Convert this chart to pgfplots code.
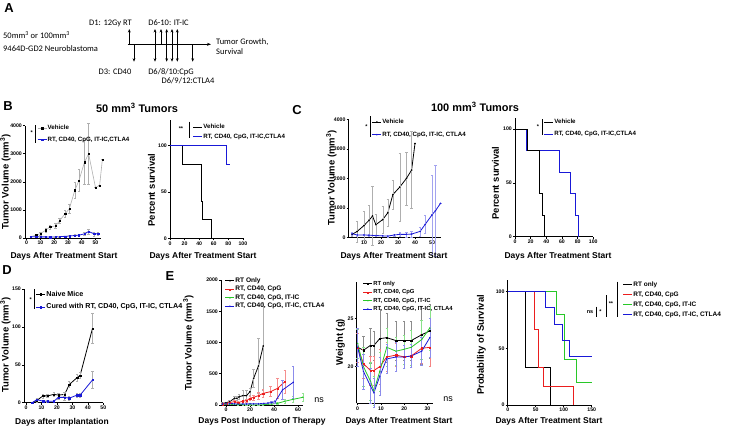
\documentclass[border=0pt]{standalone}
\usepackage{pgfplots}
\pgfplotsset{compat=1.18}
\usetikzlibrary{arrows.meta}
\usepackage{fontspec}
\setmainfont{Liberation Sans}
\newfontfamily\calfont{Carlito}

\definecolor{pblue}{RGB}{25,25,215}
\definecolor{pred}{RGB}{235,30,30}
\definecolor{pgreen}{RGB}{40,200,40}
\definecolor{lgray}{RGB}{175,175,175}

\newcommand\tl{\fontsize{5.2}{5.2}\selectfont\bfseries}
\newcommand\xl{\fontsize{8.5}{9}\selectfont\bfseries}
\newcommand\yl{\fontsize{9.5}{10}\selectfont\bfseries}
\newcommand\pl{\fontsize{13}{13}\selectfont\bfseries}
\newcommand\al{\fontsize{8.5}{9}\selectfont\calfont}

\pgfplotsset{
 prism/.style={scale only axis, anchor=south west, axis lines*=left, tick align=outside,
  major tick length=2bp, axis line style={line width=0.7bp},
  every tick/.style={black,line width=0.6bp},
  tick label style={font=\tl}, /pgf/number format/assume math mode=true,
  /pgf/number format/1000 sep={}, clip=false,
  xticklabel style={inner sep=1bp}, yticklabel style={inner sep=1bp},
  legend cell align=left,
  legend style={draw=none, fill=none, inner sep=0pt, outer sep=0pt, anchor=north west,
    font=\fontsize{6.2}{6.2}\selectfont\bfseries, nodes={inner sep=0.6bp}},
  legend image code/.code={\draw[mark repeat=2,mark phase=2,##1] plot coordinates {(0bp,0bp) (4.5bp,0bp) (9bp,0bp)};},
 },
 eb/.style={error bars/y dir=both, error bars/y explicit,
   error bars/error bar style={line width=0.4bp,#1},
   error bars/error mark options={rotate=90,mark size=1.2bp,line width=0.4bp,#1}},
 ln/.style={line width=0.8bp},
 mk/.style={mark=#1, mark size=0.65bp, mark options={line width=0.3bp, solid}},
}

\begin{document}
\begin{tikzpicture}
\path[use as bounding box] (0bp,0bp) rectangle (731bp,-428bp);

% ---------- B left ----------
\begin{axis}[prism, at={(25bp,-238bp)}, width=76bp, height=112.3bp,
  xmin=-1.2, xmax=54, ymin=0, ymax=4000, xtick={0,10,...,50}, ytick={0,1000,...,4000},
  legend style={at={(axis description cs:0.162,1.01)}, row sep=4.5bp}]
\addplot[lgray, line width=0.6bp, mark=square*, mark size=0.65bp, mark options={black, line width=0.3bp}, eb=lgray] coordinates {
(3,50) +- (0,20) (7,100) +- (0,40) (10,160) +- (0,50) (14,280) +- (0,60) (17,400) +- (0,70)
(21,430) +- (0,80) (24,620) +- (0,100) (28,870) +- (0,120) (31,1040) +- (0,150)
(35,1700) +- (0,300) (38,2050) +- (0,400) (42,2700) +- (0,800) (45,3000) +- (0,1100)
(50,1800) +- (0,0) (53,1870) +- (0,0) (55,2800) +- (0,0)};
\addlegendentry{Vehicle}
\addplot[pblue, ln, mk=square*, eb=lgray] coordinates {
(3,40) +- (0,10) (7,50) +- (0,15) (10,40) +- (0,15) (14,40) +- (0,10) (17,30) +- (0,10)
(21,40) +- (0,15) (24,50) +- (0,15) (28,60) +- (0,20) (31,70) +- (0,20) (35,90) +- (0,30)
(38,100) +- (0,40) (42,150) +- (0,60) (45,230) +- (0,100) (49,150) +- (0,70) (52,150) +- (0,60)};
\addlegendentry{RT, CD40, CpG, IT-IC,CTLA4}
\end{axis}

% ---------- B right ----------
\begin{axis}[prism, at={(170bp,-238.3bp)}, width=72.9bp, height=118.3bp,
  xmin=0, xmax=100, ymin=0, ymax=127.7, xtick={0,20,...,100}, ytick={0,50,100},
  legend style={at={(axis description cs:0.316,0.970)}, row sep=2.5bp}]
\addplot[black, ln, const plot] coordinates {(0,100)(17,80)(43,40)(45,20)(57,0)};
\addlegendentry{Vehicle}
\addplot[pblue, ln, const plot] coordinates {(0,100)(78,80)(82,80)};
\addlegendentry{RT, CD40, CpG, IT-IC,CTLA4}
\end{axis}

% ---------- C left ----------
\begin{axis}[prism, at={(348.7bp,-237.3bp)}, width=91.8bp, height=118bp,
  xmin=1, xmax=55, ymin=0, ymax=4000, xtick={10,20,...,50}, ytick={0,1000,...,4000},
  legend style={at={(axis description cs:0.254,1.007)}, row sep=5.5bp}]
\addplot[black, ln, mk=*, eb=lgray] coordinates {
(3,100) +- (0,60) (6,200) +- (0,350) (10,400) +- (0,500) (13,580) +- (0,500)
(15,720) +- (0,1000) (17,430) +- (0,350) (21,600) +- (0,450) (24,830) +- (0,450)
(27,1450) +- (0,500) (31,1700) +- (0,1150) (35,2000) +- (0,900) (38,2280) +- (0,1300) (40,3180) +- (0,0)};
\addlegendentry{Vehicle}
\addplot[pblue, ln, mk=*, eb={pblue!40}] coordinates {
(3,120) +- (0,40) (6,80) +- (0,30) (10,80) +- (0,20) (13,70) +- (0,20) (17,60) +- (0,20)
(21,50) +- (0,20) (24,40) +- (0,20) (28,80) +- (0,40) (31,100) +- (0,60) (35,100) +- (0,80)
(38,110) +- (0,100) (43,200) +- (0,150) (46,440) +- (0,300) (50,760) +- (0,1340)
(52,900) +- (0,1540) (55,1150) +- (0,0)};
\addlegendentry{RT, CD40, CpG, IT-IC, CTLA4}
\end{axis}

% ---------- C right ----------
\begin{axis}[prism, at={(515bp,-236.7bp)}, width=78.3bp, height=118.4bp,
  xmin=0, xmax=100, ymin=0, ymax=110, xtick={0,20,...,100}, ytick={0,50,100},
  legend style={at={(axis description cs:0.370,0.997)}, row sep=5bp}]
\addplot[pblue, ln, const plot, forget plot] coordinates {(0,100)(15,80)(57,60)(71,40)(77,20)(81,0)};
\addplot[black, ln, const plot] coordinates {(0,100)(16,80)(31,40)(35,20)(38,0)};
\addlegendentry{Vehicle}
\addlegendimage{pblue, ln}
\addlegendentry{RT, CD40, CpG, IT-IC,CTLA4}
\end{axis}

% ---------- D ----------
\begin{axis}[prism, at={(24bp,-402.7bp)}, width=79.3bp, height=113.7bp,
  xmin=-1.3, xmax=50, ymin=0, ymax=150, xtick={0,10,...,50}, ytick={0,50,100,150},
  legend style={at={(axis description cs:0.151,0.989)}, row sep=5bp, font=\fontsize{7.2}{7.2}\selectfont\bfseries}]
\addplot[black, ln, mk=square*, eb=lgray] coordinates {
(4,0) +- (0,0.5) (7,3) +- (0,2) (11,9) +- (0,2.5) (14,9) +- (0,2) (18,11) +- (0,2.5)
(21,10) +- (0,3) (25,11) +- (0,3) (28,24) +- (0,4) (33,33) +- (0,4) (35,36) +- (0,4) (43,98) +- (0,20)};
\addlegendentry{Naive Mice}
\addplot[pblue, ln, mk=square*, eb=lgray] coordinates {
(4,0) +- (0,0.5) (7,4) +- (0,2) (11,2) +- (0,1) (14,2) +- (0,1) (18,2) +- (0,1)
(21,7) +- (0,3) (25,7) +- (0,4) (28,6) +- (0,3) (33,10) +- (0,3) (35,10) +- (0,3) (43,30) +- (0,11)};
\addlegendentry{Cured with RT, CD40, CpG, IT-IC, CTLA4}
\end{axis}

% ---------- E tumor ----------
\begin{axis}[prism, at={(221bp,-405bp)}, width=82.3bp, height=125bp,
  xmin=-4.2, xmax=64.4, ymin=0, ymax=2000, xtick={0,20,40,60}, ytick={0,500,...,2000},
  legend style={at={(axis description cs:0.049,1.024)}, row sep=1.2bp, font=\fontsize{6.6}{6.6}\selectfont\bfseries}]
\addplot[black, ln, mk=*, eb=lgray] coordinates {
(-3,27) +- (0,10) (0,37) +- (0,15) (3,53) +- (0,20) (7,107) +- (0,30) (9,107) +- (0,30)
(11,133) +- (0,40) (14,150) +- (0,80) (17,150) +- (0,80) (20,213) +- (0,60) (23,427) +- (0,140)
(27,624) +- (0,440) (31,944) +- (0,700)};
\addlegendentry{RT Only}
\addplot[pred, ln, mk=square*, eb={pred!50}] coordinates {
(-3,16) +- (0,8) (0,20) +- (0,10) (3,40) +- (0,15) (7,53) +- (0,20) (10,40) +- (0,15)
(14,60) +- (0,20) (17,70) +- (0,25) (20,107) +- (0,30) (23,123) +- (0,40) (27,150) +- (0,50)
(31,187) +- (0,60) (37,213) +- (0,80) (43,267) +- (0,160) (49,373) +- (0,190)};
\addlegendentry{RT, CD40, CpG}
\addplot[pgreen, ln, mk=triangle*, eb={pgreen!50}] coordinates {
(-3,10) +- (0,5) (0,15) +- (0,5) (3,10) +- (0,5) (7,10) +- (0,5) (10,8) +- (0,4)
(14,8) +- (0,4) (17,5) +- (0,3) (20,5) +- (0,3) (23,5) +- (0,3) (27,5) +- (0,3)
(31,5) +- (0,3) (35,10) +- (0,5) (38,15) +- (0,8) (43,27) +- (0,15) (49,60) +- (0,30)
(56,91) +- (0,50) (64,123) +- (0,60)};
\addlegendentry{RT, CD40, CpG, IT-IC}
\addplot[pblue, ln, mk=diamond*, eb={pblue!50}] coordinates {
(-3,15) +- (0,5) (0,20) +- (0,8) (3,25) +- (0,10) (7,20) +- (0,8) (10,15) +- (0,6)
(14,15) +- (0,6) (17,15) +- (0,6) (20,20) +- (0,8) (23,20) +- (0,8) (27,20) +- (0,8)
(31,25) +- (0,10) (35,30) +- (0,12) (38,40) +- (0,15) (41,53) +- (0,20) (47,240) +- (0,150)
(56,363) +- (0,260)};
\addlegendentry{RT, CD40, CpG, IT-IC, CTLA4}
\end{axis}

% ---------- E weight ----------
\begin{axis}[prism, at={(356.7bp,-403.3bp)}, width=76.6bp, height=121.6bp,
  xmin=-0.4, xmax=32.5, ymin=16.2, ymax=28.8, xtick={0,10,20,30}, ytick={20,25},
  legend style={at={(axis description cs:0.082,1.011)}, row sep=1.6bp, font=\fontsize{5.9}{5.9}\selectfont\bfseries}]
\addplot[black, ln, mk=square*, eb={black!45}] coordinates {
(0,22.0) +- (0,2.0) (2.5,21.7) +- (0,1.5) (5.5,22.2) +- (0,1.8) (7,22.2) +- (0,1.5)
(9.5,22.9) +- (0,3.0) (12.5,23.0) +- (0,2.5) (16.5,22.7) +- (0,2.0) (20,22.7) +- (0,2.0)
(23,22.7) +- (0,2.0) (27.5,23.3) +- (0,3.0) (31,23.7) +- (0,2.8)};
\addlegendentry{RT only}
\addplot[pred, ln, mk=square*, eb={pred!55}] coordinates {
(0,22.0) +- (0,1.5) (2.5,20.3) +- (0,1.5) (5.5,19.6) +- (0,1.5) (7,19.6) +- (0,1.5)
(9.5,20.0) +- (0,1.8) (12.5,21.0) +- (0,1.5) (16.5,21.2) +- (0,1.2) (20,21.0) +- (0,1.2)
(23,21.1) +- (0,1.2) (27.5,21.9) +- (0,1.5) (31,22.0) +- (0,2.0)};
\addlegendentry{RT, CD40, CpG}
\addplot[pgreen, ln, mk=triangle*, eb={pgreen!55}] coordinates {
(0,22.4) +- (0,1.5) (2.5,20.0) +- (0,2.0) (5.5,18.5) +- (0,2.0) (7,17.5) +- (0,1.5)
(9.5,19.5) +- (0,2.0) (12.5,22.0) +- (0,2.0) (16.5,21.6) +- (0,1.5) (20,21.8) +- (0,1.5)
(23,22.0) +- (0,1.8) (27.5,22.8) +- (0,2.0) (31,24.0) +- (0,2.3)};
\addlegendentry{RT, CD40, CpG, IT-IC}
\addplot[pblue, ln, mk=diamond*, eb={pblue!50}] coordinates {
(0,22.0) +- (0,2.0) (2.5,19.5) +- (0,1.8) (5.5,18.0) +- (0,1.8) (7,17.3) +- (0,1.5)
(9.5,19.0) +- (0,2.0) (12.5,20.8) +- (0,1.5) (16.5,21.0) +- (0,1.5) (20,21.0) +- (0,1.2)
(23,21.1) +- (0,1.2) (27.5,21.6) +- (0,1.5) (31,23.0) +- (0,2.0)};
\addlegendentry{RT, CD40, CpG, IT-IC, CTLA4}
\end{axis}

% ---------- E survival ----------
\begin{axis}[prism, at={(507.7bp,-405bp)}, width=84bp, height=125bp,
  xmin=0, xmax=150, ymin=0, ymax=110.3, xtick={0,50,100,150}, ytick={0,50,100},
  legend style={at={(axis description cs:1.373,0.992)}, row sep=2.7bp, font=\fontsize{6.5}{6.5}\selectfont\bfseries}]
\addplot[black, ln, const plot] coordinates {(0,100)(31,33.3)(76,0)};
\addlegendentry{RT only}
\addplot[pred, ln, const plot] coordinates {(0,100)(47,66.7)(54,33.3)(63,16.7)(117,0)};
\addlegendentry{RT, CD40, CpG}
\addplot[pgreen, ln, const plot] coordinates {(0,100)(87.5,80)(102,40)(122,20)(150,20)};
\addlegendentry{RT, CD40, CpG, IT-IC}
\addplot[pblue, ln, const plot] coordinates {(0,100)(68,85.7)(83,71.4)(98,57.1)(110,42.9)(150,42.9)};
\addlegendentry{RT, CD40, CpG, IT-IC, CTLA4}
\end{axis}

% ---------- annotations ----------
\begin{scope}[x=1bp,y=-1bp]
\node[font=\pl] at (9,8) {A};
\node[font=\pl] at (8,106) {B};
\node[font=\pl] at (297,110) {C};
\node[font=\pl] at (7,270) {D};
\node[font=\pl] at (170,276) {E};
\node[font=\fontsize{11}{11}\selectfont\bfseries] at (137,108) {50 mm\textsuperscript{3} Tumors};
\node[font=\fontsize{11}{11}\selectfont\bfseries] at (475,107) {100 mm\textsuperscript{3} Tumors};

% panel A diagram
\node[font=\al, anchor=west, inner sep=0] at (3,35) {50mm\textsuperscript{3} or 100mm\textsuperscript{3}};
\node[font=\al, anchor=west, inner sep=0] at (3,49) {9464D-GD2 Neuroblastoma};
\draw[line width=0.8bp, -{Stealth[length=4bp,width=3bp]}] (127.7,44.3) -- (211,44.3);
\foreach \x in {129.3,155,161,166.7,172,177.3}
  \draw[line width=0.8bp, -{Stealth[length=3.5bp,width=2.8bp]}] (\x,44.3) -- (\x,29);
\foreach \x in {134,155,166.7,172,177.3,192.7}
  \draw[line width=0.8bp, -{Stealth[length=3.5bp,width=2.8bp]}] (\x,44.3) -- (\x,61.7);
\node[font=\al] at (110.5,23) {D1: 12Gy RT};
\node[font=\al] at (168.5,23) {D6-10: IT-IC};
\node[font=\al] at (115,72) {D3: CD40};
\node[font=\al] at (171,72) {D6/8/10:CpG};
\node[font=\al] at (188,81) {D6/9/12:CTLA4};
\node[font=\al, anchor=west, inner sep=0] at (216,41.7) {Tumor Growth,};
\node[font=\al, anchor=west, inner sep=0] at (216,52) {Survival};

% axis labels
\node[font=\xl] at (64,256) {Days After Treatment Start};
\node[font=\yl, rotate=90] at (5.5,182) {Tumor Volume (mm\textsuperscript{3})};
\node[font=\xl] at (203,256) {Days After Treatment Start};
\node[font=\yl, rotate=90] at (151.5,190) {Percent survival};
\node[font=\xl] at (394,256) {Days After Treatment Start};
\node[font=\yl, rotate=90] at (331.5,178) {Tumor Volume (mm\textsuperscript{3})};
\node[font=\xl] at (558,256) {Days After Treatment Start};
\node[font=\yl, rotate=90] at (495.5,183) {Percent survival};
\node[font=\xl] at (62,422.5) {Days after Implantation};
\node[font=\yl, rotate=90] at (5.5,345) {Tumor Volume (mm\textsuperscript{3})};
\node[font=\xl] at (262,421) {Days Post Induction of Therapy};
\node[font=\yl, rotate=90] at (188.5,343) {Tumor Volume (mm\textsuperscript{3})};
\node[font=\xl] at (399,421) {Days After Treatment Start};
\node[font=\yl, rotate=90] at (340.5,342) {Weight (g)};
\node[font=\xl] at (549,421) {Days After Treatment Start};
\node[font=\yl, rotate=90] at (481.5,345) {Probability of Survival};

\node[font=\fontsize{9}{9}\selectfont] at (319,400) {ns};
\node[font=\fontsize{9}{9}\selectfont] at (448,399) {ns};

% significance bars
\begin{scope}[line width=0.7bp, every node/.style={font=\fontsize{5.5}{5.5}\selectfont\bfseries, inner sep=0}]
\draw (35.7,125) -- (35.7,143); \node at (31.7,133) {*};
\draw (189,121.7) -- (189,138.3); \node at (181,129) {**};
\draw (370,116) -- (370,137); \node at (366.5,127) {*};
\draw (542.7,119) -- (542.7,135); \node at (538,127) {*};
\draw (34,289) -- (34,309); \node at (30.7,300) {*};
\draw (596.7,306.7) -- (596.7,316.7); \node at (590,311.7) {ns};
\node at (600.5,311.7) {*};
\draw (606.7,295) -- (606.7,316.7); \node at (611,304) {**};
\draw (617.3,281.7) -- (617.3,316.7);
\end{scope}
\end{scope}
\end{tikzpicture}
\end{document}
